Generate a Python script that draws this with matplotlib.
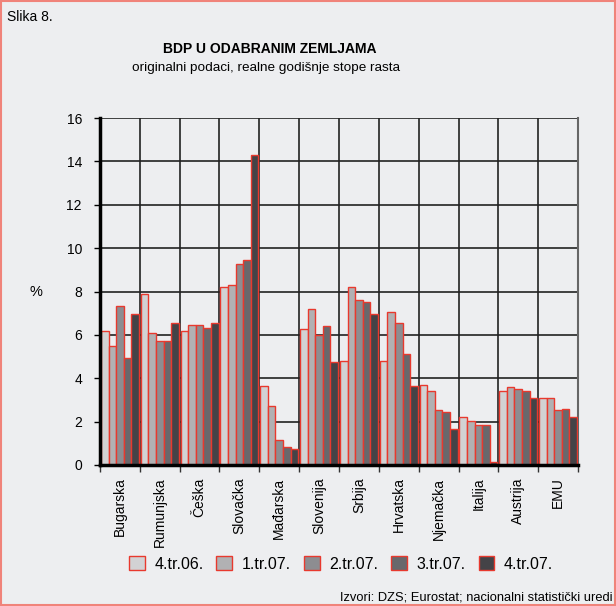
import matplotlib
matplotlib.use("Agg")
import matplotlib.pyplot as plt
import numpy as np
from matplotlib.patches import Rectangle, Patch

plt.rcParams['font.family'] = ['Liberation Sans', 'DejaVu Sans']

countries = ["Bugarska", "Rumunjska", "Češka", "Slovačka", "Mađarska", "Slovenija",
             "Srbija", "Hrvatska", "Njemačka", "Italija", "Austrija", "EMU"]
series_names = ["4.tr.06.", "1.tr.07.", "2.tr.07.", "3.tr.07.", "4.tr.07."]
q4_06 = [6.2, 7.9, 6.2, 8.2, 3.65, 6.25, 4.8, 4.8, 3.7, 2.2, 3.4, 3.1]
q1_07 = [5.5, 6.1, 6.45, 8.3, 2.7, 7.2, 8.2, 7.05, 3.4, 2.05, 3.6, 3.1]
q2_07 = [7.35, 5.7, 6.45, 9.25, 1.15, 6.0, 7.6, 6.55, 2.55, 1.85, 3.5, 2.55]
q3_07 = [4.95, 5.7, 6.3, 9.45, 0.85, 6.4, 7.5, 5.1, 2.45, 1.85, 3.4, 2.6]
q4_07 = [6.95, 6.55, 6.55, 14.3, 0.75, 4.75, 6.95, 3.65, 1.65, 0.15, 3.1, 2.2]
series = [q4_06, q1_07, q2_07, q3_07, q4_07]
colors = ["#d2d2d4", "#b1b1b3", "#8d8d91", "#68686c", "#444347"]
edge = "#e8392e"
bg = "#edeef0"

fig = plt.figure(figsize=(6.16, 6.06), dpi=100, facecolor=bg)
ax = fig.add_axes([100/616, 1-465/606, 478/616, 347/606], facecolor=bg)

x = np.arange(len(countries))
w = 0.19
for j, vals in enumerate(series):
    ax.bar(x + (j - 2) * w, vals, width=w, color=colors[j], edgecolor=edge,
           linewidth=1.0, zorder=3, label=series_names[j])

ax.set_xlim(-0.5, len(countries) - 0.5)
ax.set_ylim(0, 16)
ax.set_yticks(np.arange(0, 17, 2))
ax.set_yticklabels([str(v) for v in range(0, 17, 2)], fontsize=10)
ax.set_xticks(x)
ax.set_xticklabels(countries, rotation=90, fontsize=10, va='top')
ax.tick_params(axis='x', length=0, pad=9)
ax.set_xticks(np.arange(-0.5, len(countries), 1), minor=True)
ax.tick_params(axis='x', which='minor', length=5, width=1, color='#333333', direction='out')
ax.tick_params(axis='y', length=4, width=1, direction='out', pad=9)

for v in np.arange(2, 17, 2):
    ax.axhline(v, color='#222222', linewidth=1.2, zorder=1)
for b in np.arange(0.5, len(countries) - 0.5, 1):
    ax.axvline(b, color='#222222', linewidth=1.2, zorder=1)

ax.spines['top'].set_visible(False)
ax.spines['right'].set_color('#666666')
ax.spines['right'].set_linewidth(1.5)
ax.spines['left'].set_linewidth(2.5)
ax.spines['bottom'].set_linewidth(2.5)
ax.spines['left'].set_zorder(4)
ax.spines['bottom'].set_zorder(4)

fig.text(36/616, 1-292/606, "%", fontsize=10.5, ha='center', va='center')
fig.text(7/616, 1-17/606, "Slika 8.", fontsize=10, ha='left', va='center')
fig.text(270/616, 1-49/606, "BDP U ODABRANIM ZEMLJAMA", fontsize=10,
         fontweight='bold', ha='center', va='center')
fig.text(266/616, 1-68/606, "originalni podaci, realne godišnje stope rasta",
         fontsize=9.7, ha='center', va='center')
fig.text(612/616, 1-597/606, "Izvori: DZS; Eurostat; nacionalni statistički uredi",
         fontsize=9.3, ha='right', va='center')

handles = [Patch(facecolor=colors[j], edgecolor=edge, linewidth=1.0) for j in range(5)]
fig.legend(handles, series_names, loc='center', bbox_to_anchor=(341/616, 1-564/606),
           ncol=5, frameon=False, fontsize=11.5, handlelength=1.0, handleheight=1.0,
           columnspacing=0.8, handletextpad=0.6)

fig.patches.append(Rectangle((0.001, 0.001), 0.997, 0.997, transform=fig.transFigure,
                             fill=False, edgecolor='#f0837a', linewidth=1.5))

fig.savefig("out.png", dpi=100, facecolor=bg)
